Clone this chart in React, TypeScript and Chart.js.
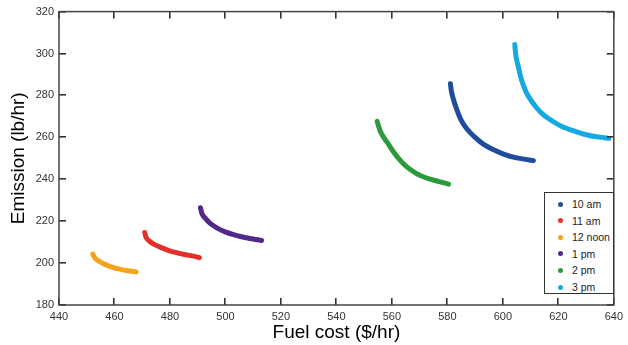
import React, { useEffect, useRef } from "react";
import { Chart, registerables } from "chart.js";

Chart.register(...registerables);

// Fuel cost ($/hr) vs Emission (lb/hr)
const seriesLabels = ["10 am", "11 am", "12 noon", "1 pm", "2 pm", "3 pm"];
const seriesColors = ["#1f4d9c", "#e3302a", "#f5a31e", "#50298a", "#2b9a3b", "#14a9e1"];

const front10am: [number, number][] = [
  [581.1, 285.6], [581.4, 282.4], [582.3, 277.6], [583.5, 272.9], [585.0, 268.1],
  [587.0, 264.1], [589.8, 260.2], [592.7, 257.0], [596.3, 254.3], [600.5, 251.9],
  [604.6, 250.3], [608.2, 249.5], [611.0, 248.9],
];
const front11am: [number, number][] = [
  [470.9, 214.6], [471.3, 212.5], [472.5, 210.6], [474.3, 208.9], [476.7, 207.5],
  [479.6, 206.0], [482.6, 204.9], [485.6, 204.0], [488.6, 203.3], [490.6, 202.6],
];
const front12noon: [number, number][] = [
  [452.2, 204.3], [452.9, 202.5], [454.4, 200.9], [456.4, 199.5], [458.8, 198.2],
  [461.8, 197.1], [464.8, 196.3], [467.8, 195.8],
];
const front1pm: [number, number][] = [
  [491.0, 226.4], [491.5, 223.7], [492.8, 221.3], [494.5, 218.9], [496.9, 216.8],
  [499.9, 214.9], [503.5, 213.3], [507.0, 212.2], [510.4, 211.4], [513.0, 210.8],
];
const front2pm: [number, number][] = [
  [554.7, 267.6], [555.7, 263.3], [556.8, 260.5], [558.2, 257.8], [560.6, 253.0],
  [563.0, 249.0], [565.4, 245.9], [568.9, 242.7], [572.5, 240.6], [576.7, 239.0],
  [580.4, 237.7],
];
const front3pm: [number, number][] = [
  [604.3, 304.3], [604.6, 299.9], [605.6, 293.5], [606.8, 287.1], [608.4, 281.6],
  [610.6, 276.8], [613.6, 272.0], [617.1, 268.4], [621.3, 265.2], [626.1, 262.9],
  [630.8, 261.0], [635.0, 260.1], [638.2, 259.5],
];
const seriesData = [front10am, front11am, front12noon, front1pm, front2pm, front3pm];

const xTicks = [440, 460, 480, 500, 520, 540, 560, 580, 600, 620, 640];
const yTicks = [180, 200, 220, 240, 260, 280, 300, 320];

const FONT = "'Liberation Sans', Arial, sans-serif";

const boxPlugin = {
  id: "matlabBox",
  afterDraw(chart: any) {
    const ctx: CanvasRenderingContext2D = chart.ctx;
    const { left, right, top, bottom } = chart.chartArea;
    const xs = chart.scales.x;
    const ys = chart.scales.y;
    ctx.save();
    ctx.fillStyle = "#333333";
    const TL = 7;
    for (const v of xTicks) {
      const px = Math.round(xs.getPixelForValue(v));
      ctx.fillRect(px - 1, bottom - TL, 1.6, TL);
      ctx.fillRect(px - 1, top, 1.6, TL);
    }
    for (const v of yTicks) {
      const py = Math.round(ys.getPixelForValue(v));
      ctx.fillRect(left, py - 1, TL, 1.6);
      ctx.fillRect(right - TL, py - 1, TL, 1.6);
    }
    ctx.strokeStyle = "#444444";
    ctx.lineWidth = 1.5;
    ctx.strokeRect(left, top, right - left, bottom - top);
    ctx.restore();
  },
};

export default function App() {
  const canvasRef = useRef<HTMLCanvasElement | null>(null);

  useEffect(() => {
    if (!canvasRef.current) return;
    const chart = new Chart(canvasRef.current, {
      type: "scatter",
      data: {
        datasets: seriesData.map((pts, i) => ({
          label: seriesLabels[i],
          data: pts.map(([x, y]) => ({ x, y })),
          showLine: true,
          cubicInterpolationMode: "monotone",
          borderColor: seriesColors[i],
          backgroundColor: seriesColors[i],
          borderWidth: 5,
          borderCapStyle: "round",
          borderJoinStyle: "round",
          pointRadius: 0,
          pointHoverRadius: 0,
        })),
      },
      options: {
        responsive: false,
        animation: false,
        devicePixelRatio: 1,
        layout: { padding: { top: 11, right: 9, left: 0, bottom: 0 } },
        plugins: { legend: { display: false }, tooltip: { enabled: false } },
        scales: {
          x: {
            type: "linear",
            min: 440,
            max: 640,
            afterBuildTicks: (s: any) => {
              s.ticks = xTicks.map((v) => ({ value: v }));
            },
            afterFit: (s: any) => {
              s.height = 40;
            },
            grid: { display: false, drawTicks: false },
            border: { display: false },
            ticks: {
              padding: 5,
              color: "#333",
              font: { family: FONT, size: 11 },
              maxRotation: 0,
              autoSkip: false,
            },
            title: {
              display: true,
              text: "Fuel cost ($/hr)",
              color: "#000",
              font: { family: FONT, size: 19 },
              padding: { top: 0, bottom: 1 },
            },
          },
          y: {
            type: "linear",
            min: 180,
            max: 320,
            afterBuildTicks: (s: any) => {
              s.ticks = yTicks.map((v) => ({ value: v }));
            },
            afterFit: (s: any) => {
              s.width = 59;
            },
            grid: { display: false, drawTicks: false },
            border: { display: false },
            ticks: {
              padding: 5,
              color: "#333",
              font: { family: FONT, size: 11 },
              autoSkip: false,
            },
            title: {
              display: true,
              text: "Emission (lb/hr)",
              color: "#000",
              font: { family: FONT, size: 19 },
              padding: { top: 7, bottom: 0 },
            },
          },
        },
      },
      plugins: [boxPlugin],
    } as any);
    return () => chart.destroy();
  }, []);

  return (
    <div style={{ position: "absolute", left: 0, top: 0, width: 628, height: 345, background: "#fff" }}>
      <canvas ref={canvasRef} width={628} height={345} style={{ display: "block" }} />
      <div
        style={{
          position: "absolute",
          left: 544,
          top: 192,
          width: 70,
          height: 102,
          boxSizing: "border-box",
          border: "1px solid #333",
          background: "#fff",
          fontFamily: FONT,
          fontSize: 10.5,
          color: "#222",
        }}
      >
        {seriesLabels.map((lab, i) => (
          <div
            key={lab}
            style={{
              position: "absolute",
              left: 0,
              top: 11 + i * 16.6 - 7,
              height: 14,
              lineHeight: "14px",
              whiteSpace: "nowrap",
            }}
          >
            <span
              style={{
                position: "absolute",
                left: 13,
                top: 4.5,
                width: 5,
                height: 5,
                borderRadius: "50%",
                background: seriesColors[i],
              }}
            />
            <span style={{ position: "absolute", left: 27 }}>{lab}</span>
          </div>
        ))}
      </div>
    </div>
  );
}
